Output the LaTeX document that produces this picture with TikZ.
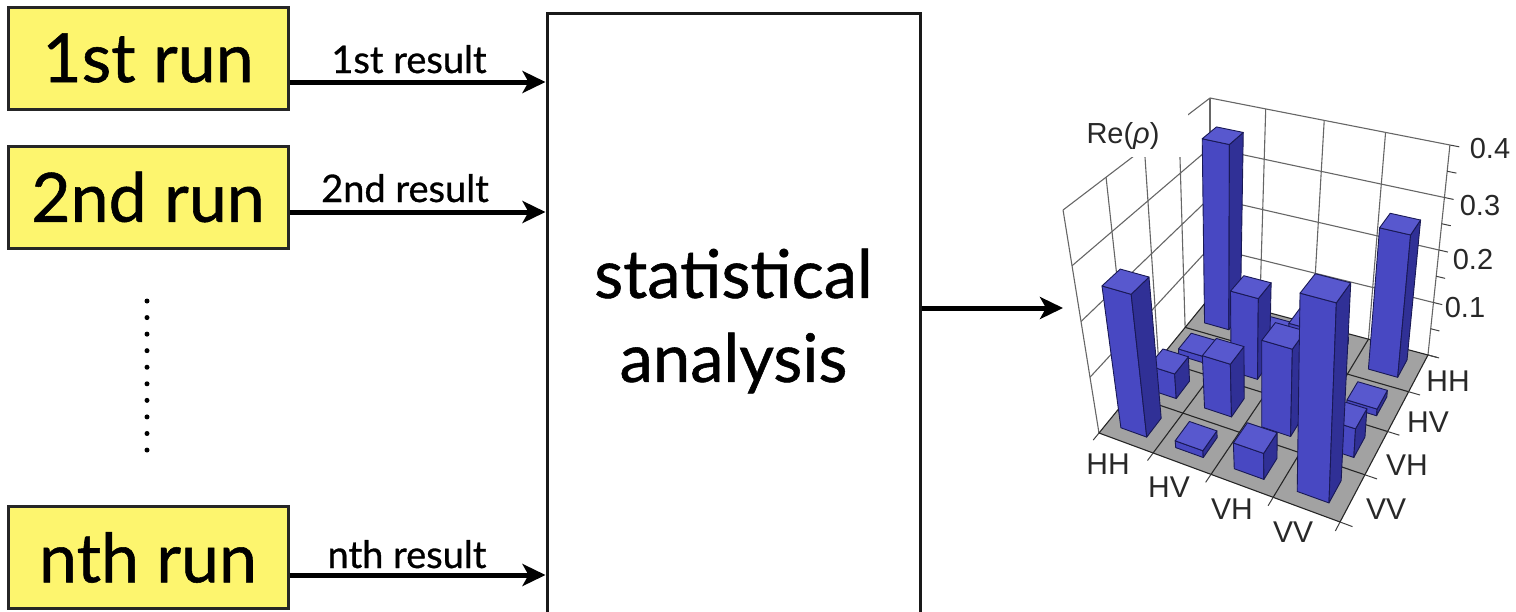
\documentclass[tikz,border=0pt]{standalone}
\usepackage{fontspec}
\setmainfont{Lato}[FakeBold=0.8]
\newfontfamily\chartfont{Liberation Sans}
\usetikzlibrary{arrows.meta}

\definecolor{runyellow}{RGB}{253,245,110}
\definecolor{floorgray}{RGB}{162,162,162}
\definecolor{barfront}{RGB}{72,72,194}
\definecolor{barside}{RGB}{48,48,150}
\definecolor{bartop}{RGB}{88,88,206}
\definecolor{baredge}{RGB}{25,25,85}
\definecolor{chartgray}{RGB}{40,40,40}

% perspective coordinate system for the bar chart: (ch cs:p,q,z)
\makeatletter
\tikzdeclarecoordinatesystem{ch}{\ch@parse#1\@nil}
\def\ch@parse#1,#2,#3\@nil{%
  \pgfmathsetmacro\ch@df{1-0.11281*(#1)-0.13663*(#2)}%
  \pgfmathsetmacro\ch@dt{1-0.09031*(#1)-0.19523*(#2)}%
  \pgfmathsetmacro\ch@w{2.5*(#3)}%
  \pgfmathsetmacro\ch@x{(1-\ch@w)*(56.91*(#1)-261.16*(#2)+1210)/\ch@df+\ch@w*(109.05*(#1)-354.53*(#2)+1210)/\ch@dt}%
  \pgfmathsetmacro\ch@y{(1-\ch@w)*(17.95*(#1)+76.84*(#2)+297)/\ch@df+\ch@w*(33.91*(#1)+71.0*(#2)+98)/\ch@dt}%
  \pgfpointxy{\ch@x}{\ch@y}}
\makeatother

\begin{document}
\begin{tikzpicture}[x=1pt,y=-1pt,
  runbox/.style={draw=black!85, line width=3pt, fill=runyellow, minimum width=280pt,
    minimum height=102pt, inner sep=0pt, font=\fontsize{68}{80}\selectfont},
  statbox/.style={draw=black!90, line width=3pt, minimum width=373pt, minimum height=616pt,
    inner sep=0pt, align=center, font=\fontsize{67}{84}\selectfont},
  reslabel/.style={inner sep=0pt, anchor=base, font=\fontsize{38}{45}\selectfont},
  arr/.style={line width=5pt, -{Stealth[length=23pt,width=22pt,inset=6pt]}},
  wallgrid/.style={draw=black!60, line width=1.1pt},
  floorline/.style={draw=black!85, line width=1.1pt},
  tickmark/.style={draw=black!75, line width=1pt},
  barface/.style={draw=baredge, line width=0.9pt, line join=round},
  axlbl/.style={text=chartgray, inner sep=0pt, font=\chartfont\fontsize{30}{30}\selectfont},
  numlbl/.style={text=chartgray, inner sep=0pt, font=\chartfont\fontsize{29}{29}\selectfont}
]
\useasboundingbox (0,0) rectangle (1516,611);
\clip (0,0) rectangle (1516,611);

% ---------- left part ----------
\node[runbox] (r1) at (148,58) {1st run};
\node[runbox] (r2) at (148,197) {2nd run};
\node[runbox] (rn) at (148,557.5) {nth run};

\node[statbox] (stat) at (733.5,321) {statistical\\analysis};

\node[reslabel] (l1) at (409,73) {1st result};
\node[reslabel] (l2) at (405,202) {2nd result};
\node[reslabel] (ln) at (407,568) {nth result};

\draw[arr] (r1.east |- 0,82) -- (stat.west |- 0,82);
\draw[arr] (r2.east |- 0,212) -- (stat.west |- 0,212);
\draw[arr] (rn.east |- 0,575) -- (stat.west |- 0,575);

\foreach \k in {0,...,9} \fill (147,{301+16.56*\k}) circle (2.5);

\coordinate (chin) at (1063,308);
\draw[arr] (stat.east |- chin) -- (chin);

% ---------- bar chart ----------
% walls
\foreach \qv in {0,0.25,0.5,0.75,1}
  \draw[wallgrid] (ch cs:0,\qv,0) -- (ch cs:0,\qv,0.4);
\foreach \zv in {0.1,0.2,0.3,0.4}
  \draw[wallgrid] (ch cs:0,0,\zv) -- (ch cs:0,1,\zv);
\foreach \pv in {0.25,0.5,0.75,1}
  \draw[wallgrid] (ch cs:\pv,0,0) -- (ch cs:\pv,0,0.4);
\foreach \zv in {0.1,0.2,0.3,0.4}
  \draw[wallgrid] (ch cs:0,0,\zv) -- (ch cs:1,0,\zv);

\fill[white] (1083,100) rectangle (1188,157);
\node[axlbl, font=\chartfont\fontsize{29}{29}\selectfont] (relbl) at (1123,136) {Re(\textit{ρ})};

% floor
\fill[floorgray] (ch cs:0,0,0) -- (ch cs:1,0,0) -- (ch cs:1,1,0) -- (ch cs:0,1,0) -- cycle;
\foreach \tv in {0.25,0.5,0.75} {
  \draw[floorline] (ch cs:\tv,0,0) -- (ch cs:\tv,1,0);
  \draw[floorline] (ch cs:0,\tv,0) -- (ch cs:1,\tv,0);
}
\draw[floorline] (ch cs:0,0,0) -- (ch cs:1,0,0) -- (ch cs:1,1,0) -- (ch cs:0,1,0) -- cycle;

% ticks
\foreach \tv in {0,0.25,0.5,0.75,1} {
  \draw[tickmark] (ch cs:\tv,1,0) -- (ch cs:\tv,1.045,0);
  \draw[tickmark] (ch cs:1,\tv,0) -- (ch cs:1.045,\tv,0);
}
\foreach \zv in {0,0.05,0.1,0.15,0.2,0.25,0.3,0.35,0.4}
  \draw[tickmark] (ch cs:1,0,\zv) -- (ch cs:1.035,0,\zv);

% bars (back to front)
\foreach \bi/\bj/\hh in {0/0/0.36, 1/0/0.012, 0/1/0.012, 2/0/0.012, 1/1/0.15, 0/2/0.045,
    3/0/0.265, 2/1/0.12, 1/2/0.095, 0/3/0.255, 3/1/0.012, 2/2/0.155, 1/3/0.012,
    3/2/0.05, 2/3/0.045, 3/3/0.34} {
  \pgfmathsetmacro\pa{(\bi+0.26)/4}
  \pgfmathsetmacro\pb{(\bi+0.74)/4}
  \pgfmathsetmacro\qa{(\bj+0.26)/4}
  \pgfmathsetmacro\qb{(\bj+0.74)/4}
  \filldraw[barface, fill=barfront] (ch cs:\pa,\qb,0) -- (ch cs:\pb,\qb,0) -- (ch cs:\pb,\qb,\hh) -- (ch cs:\pa,\qb,\hh) -- cycle;
  \filldraw[barface, fill=barside] (ch cs:\pb,\qb,0) -- (ch cs:\pb,\qa,0) -- (ch cs:\pb,\qa,\hh) -- (ch cs:\pb,\qb,\hh) -- cycle;
  \filldraw[barface, fill=bartop] (ch cs:\pa,\qa,\hh) -- (ch cs:\pb,\qa,\hh) -- (ch cs:\pb,\qb,\hh) -- (ch cs:\pa,\qb,\hh) -- cycle;
}

% axis labels
\node[axlbl] (xhh) at (1108,464) {HH};
\node[axlbl] (xhv) at (1169,487) {HV};
\node[axlbl] (xvh) at (1232,509) {VH};
\node[axlbl] (xvv) at (1293,532) {VV};
\node[axlbl] (yhh) at (1448,381) {HH};
\node[axlbl] (yhv) at (1428,422) {HV};
\node[axlbl] (yvh) at (1407,465) {VH};
\node[axlbl] (yvv) at (1386,509) {VV};
\node[numlbl] (z4) at (1490,149) {0.4};
\node[numlbl] (z3) at (1480,206) {0.3};
\node[numlbl] (z2) at (1473,260) {0.2};
\node[numlbl] (z1) at (1465,308) {0.1};
\end{tikzpicture}
\end{document}
